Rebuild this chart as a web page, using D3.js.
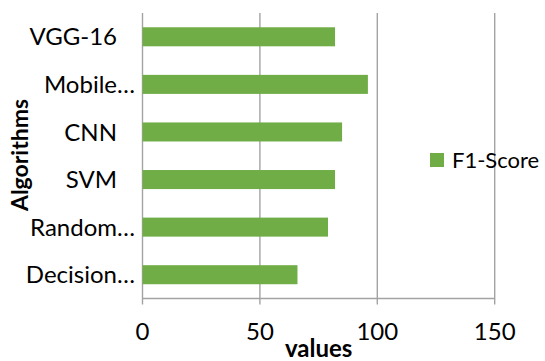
<!DOCTYPE html>
<html><head><meta charset="utf-8">
<script src="https://cdn.jsdelivr.net/npm/d3@7"></script>
<style>html,body{margin:0;padding:0;background:#fff;}svg{display:block;}</style>
</head><body>
<script>
const categories = ["VGG-16", "Mobile…", "CNN", "SVM", "Random…", "Decision…"];
const f1Score = [82, 96, 85, 82, 79, 66];
const xTicks = [0, 50, 100, 150];
const seriesName = "F1-Score";
const xTitle = "values";
const yTitle = "Algorithms";

const W = 545, H = 361;
const m = {left: 142.5, right: W - 494.7, top: 13, bottom: H - 298.5};
const font = "Lato, 'Open Sans', sans-serif";
const grid = "#a3a3a3";
const green = "#70ad47";

const svg = d3.select("body").append("svg").attr("width", W).attr("height", H);

const x = d3.scaleLinear().domain([0, 150]).range([m.left, W - m.right]);
const y = d3.scaleBand().domain(categories).range([m.top, H - m.bottom]).paddingInner(0.6).paddingOuter(0.3);

// gridlines
svg.append("g").selectAll("line").data(xTicks).join("line")
  .attr("x1", d => x(d)).attr("x2", d => x(d))
  .attr("y1", m.top).attr("y2", H - m.bottom + 6)
  .attr("stroke", grid).attr("stroke-width", 1.4);

// bottom axis line
svg.append("line").attr("x1", x(0)).attr("x2", x(150))
  .attr("y1", H - m.bottom).attr("y2", H - m.bottom)
  .attr("stroke", grid).attr("stroke-width", 1.4);

// bars
svg.append("g").selectAll("rect").data(categories).join("rect")
  .attr("x", x(0)).attr("y", d => y(d))
  .attr("width", (d, i) => x(f1Score[i]) - x(0))
  .attr("height", y.bandwidth())
  .attr("fill", green);

// x tick labels
svg.append("g").selectAll("text").data(xTicks).join("text")
  .attr("x", d => x(d)).attr("y", 340)
  .attr("text-anchor", "middle")
  .attr("font-family", font).attr("font-size", 24).attr("fill", "#000")
  .text(d => d);

// y category labels
svg.append("g").selectAll("text").data(categories).join("text")
  .attr("x", d => d.endsWith("…") ? 135 : 117)
  .attr("y", d => y(d) + y.bandwidth() / 2)
  .attr("dy", "0.36em")
  .attr("text-anchor", "end")
  .attr("font-family", font).attr("font-size", 24).attr("fill", "#000")
  .text(d => d);

// axis titles
svg.append("text").attr("x", (x(0) + x(150)) / 2).attr("y", 357)
  .attr("text-anchor", "middle").attr("font-family", font).attr("font-weight", "bold")
  .attr("font-size", 24).attr("fill", "#000").text(xTitle);

svg.append("text").attr("transform", "translate(28,155) rotate(-90)")
  .attr("text-anchor", "middle").attr("font-family", font).attr("font-weight", "bold")
  .attr("font-size", 23).attr("fill", "#000").text(yTitle);

// legend
const lg = svg.append("g").attr("transform", "translate(430,153)");
lg.append("rect").attr("width", 14).attr("height", 14).attr("fill", green);
lg.append("text").attr("x", 22).attr("y", 14.5)
  .attr("font-family", font).attr("font-size", 22).attr("fill", "#000").text(seriesName);
</script>
</body></html>
